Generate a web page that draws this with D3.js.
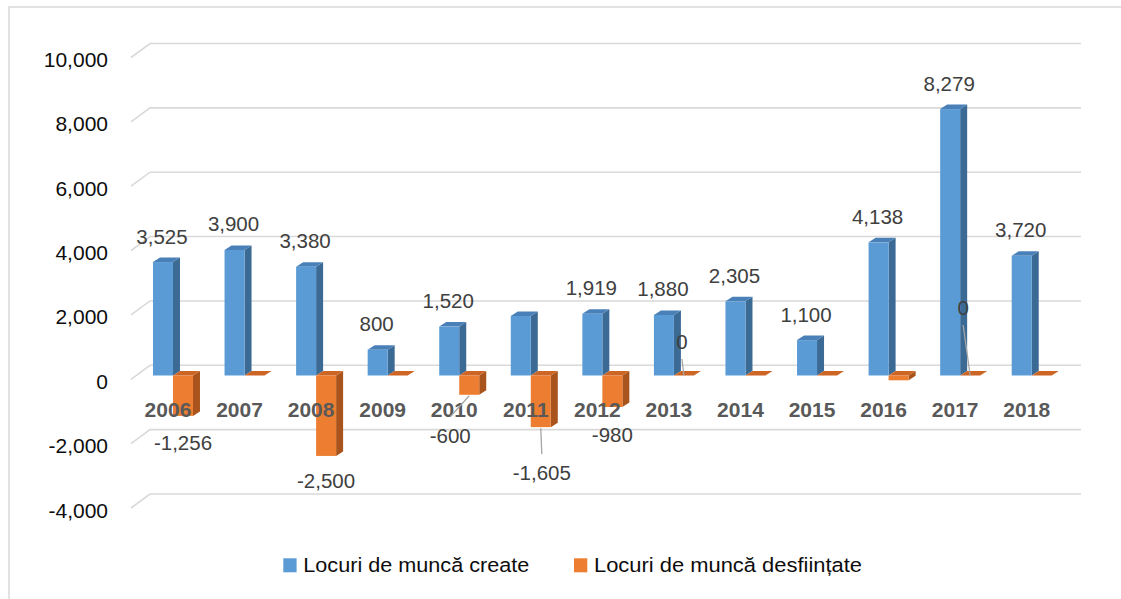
<!DOCTYPE html>
<html>
<head>
<meta charset="utf-8">
<script src="https://cdn.jsdelivr.net/npm/d3@7"></script>
<style>
  html, body { margin: 0; padding: 0; background: #ffffff; }
  svg { display: block; }
</style>
</head>
<body>
<svg id="chart" width="1121" height="599"></svg>
<script>
// ---- data ----
const years = ["2006","2007","2008","2009","2010","2011","2012","2013","2014","2015","2016","2017","2018"];
const created = [3525, 3900, 3380, 800, 1520, 1850, 1919, 1880, 2305, 1100, 4138, 8279, 3720];
const destroyed = [-1256, 0, -2500, 0, -600, -1605, -980, 0, 0, 0, -150, 0, 0];
const createdLabelShown = [1,1,1,1,1,0,1,1,1,1,1,1,1];
const destroyedLabelShown = [1,0,1,0,1,1,1,1,0,0,0,1,0];
const tickValues = [-4000, -2000, 0, 2000, 4000, 6000, 8000, 10000];
const seriesNames = ["Locuri de muncă create", "Locuri de muncă desființate"];

// manually moved labels of the second series: [dx, dy, leader line]
const destroyedLabelMoves = [[0,34,0],[0,0,0],[0,32,0],[0,0,0],[-19,48,1],[1,53,1],[0,35,0],[-2,-26.5,1],[0,0,0],[0,0,0],[0,0,0],[-7,-60.5,1],[0,0,0]];

// ---- setup ----
const fmt = d3.formatLocale({decimal: ".", thousands: ",", grouping: [3], currency: ["", ""], minus: "-"}).format(",");
const svg = d3.select("#chart");
const FONT = "'Liberation Sans', Arial, sans-serif";

// chart frame
svg.append("rect").attr("x", 9).attr("y", 7).attr("width", 1300).attr("height", 800)
  .attr("fill", "#fff").attr("stroke", "#d9d9d9").attr("stroke-width", 1.5);

const x = d3.scaleBand().domain(years).range([137.2, 1067.5]).padding(0);
const yBack = d3.scaleLinear().domain([-4000, 10000]).range([494, 43.5]);
const frontShift = 10.2;
const yFront = d3.scaleLinear().domain([-4000, 10000]).range([494 + frontShift, 43.5 + frontShift]);
const gridRight = 1081, gridLeft = 150, diagDx = 19, diagDy = 14;
const barW = 20, depthX = 7, depthY = -4.5;

// gridlines
const grid = svg.append("g");
tickValues.forEach(t => {
  const yy = yBack(t);
  grid.append("path")
    .attr("d", `M${gridLeft - diagDx},${yy + diagDy} L${gridLeft},${yy} L${gridRight},${yy}`)
    .attr("fill", "none").attr("stroke", "#d9d9d9").attr("stroke-width", 1.6);
});

// y tick labels
svg.append("g").selectAll("text").data(tickValues).join("text")
  .attr("x", 108).attr("y", d => yBack(d) + 23.5)
  .attr("text-anchor", "end")
  .attr("font-family", FONT).attr("font-size", 21).attr("fill", "#0d0d0d")
  .text(d => fmt(d));

// bars
const colors = [
  {front: "#5b9bd5", side: "#3b6a95", top: "#4a80b8"},
  {front: "#ed7d31", side: "#a9541c", top: "#cd6524"}
];
function drawBar(g, x0, v, c) {
  const y0 = yFront(0), y1 = yFront(v);
  const yt = Math.min(y0, y1), yb = Math.max(y0, y1);
  const x1 = x0 + barW;
  g.append("path")
    .attr("d", `M${x1},${yt} L${x1 + depthX},${yt + depthY} L${x1 + depthX},${yb + depthY} L${x1},${yb} Z`)
    .attr("fill", c.side);
  g.append("path")
    .attr("d", `M${x0},${yt} L${x0 + depthX},${yt + depthY} L${x1 + depthX},${yt + depthY} L${x1},${yt} Z`)
    .attr("fill", c.top);
  if (yb - yt > 0.01) {
    g.append("rect").attr("x", x0).attr("y", yt).attr("width", barW).attr("height", yb - yt)
      .attr("fill", c.front);
  }
}
const bars = svg.append("g");
years.forEach((yr, i) => {
  const cx = x(yr) + x.bandwidth() / 2;
  drawBar(bars, cx - barW, created[i], colors[0]);
  drawBar(bars, cx, destroyed[i], colors[1]);
});

// year labels (drawn over the bars)
svg.append("g").selectAll("text").data(years).join("text")
  .attr("x", d => x(d) + x.bandwidth() / 2 - 5).attr("y", 417)
  .attr("text-anchor", "middle")
  .attr("font-family", FONT).attr("font-size", 21).attr("font-weight", "bold").attr("fill", "#595959")
  .text(d => d);

// data labels: created
const labels = svg.append("g").attr("font-family", FONT).attr("font-size", 20.5).attr("fill", "#404040");
years.forEach((yr, i) => {
  if (!createdLabelShown[i]) return;
  const cx = x(yr) + x.bandwidth() / 2;
  labels.append("text")
    .attr("x", cx - barW / 2 - 1).attr("y", yFront(created[i]) - 18.5)
    .attr("text-anchor", "middle")
    .text(fmt(created[i]));
});

// data labels: destroyed
years.forEach((yr, i) => {
  if (!destroyedLabelShown[i]) return;
  const cx = x(yr) + x.bandwidth() / 2 + barW / 2;
  const [dx, dy, leader] = destroyedLabelMoves[i];
  const ye = yFront(destroyed[i]);
  const lx = cx + dx, ly = ye + dy;
  if (leader) {
    const endY = dy > 0 ? ly - 26 : ly + 10;
    labels.append("line")
      .attr("x1", cx).attr("y1", ye + (dy > 0 ? 1 : 0))
      .attr("x2", lx).attr("y2", endY)
      .attr("stroke", "#a6a6a6").attr("stroke-width", 1.3);
  }
  labels.append("text")
    .attr("x", lx).attr("y", ly)
    .attr("text-anchor", "middle")
    .text(fmt(destroyed[i]));
});

// legend
const legend = svg.append("g").attr("font-family", FONT).attr("font-size", 20.5).attr("fill", "#0d0d0d");
const legendX = [283.3, 574];
const legendTextW = [226, 268];
seriesNames.forEach((name, i) => {
  legend.append("rect").attr("x", legendX[i]).attr("y", 558.3).attr("width", 13.3).attr("height", 14)
    .attr("fill", colors[i].front);
  legend.append("text").attr("x", legendX[i] + 20).attr("y", 571.7)
    .attr("textLength", legendTextW[i]).attr("lengthAdjust", "spacingAndGlyphs")
    .text(name);
});
</script>
</body>
</html>
